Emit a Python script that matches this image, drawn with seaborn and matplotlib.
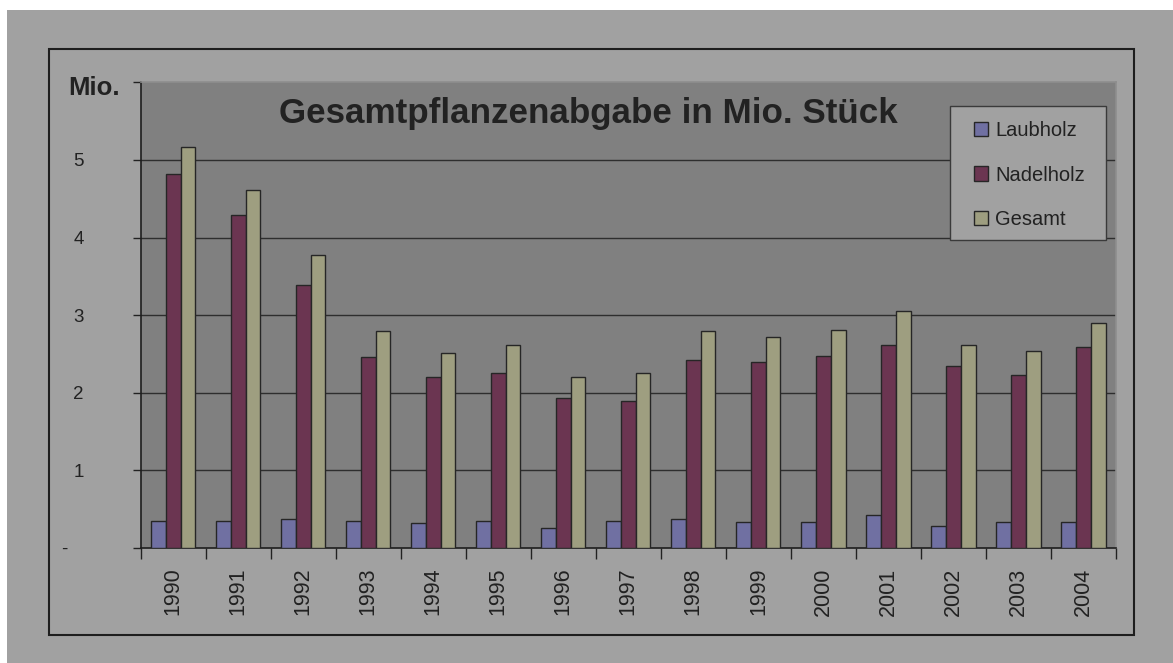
import pandas as pd
import seaborn as sns
import matplotlib.pyplot as plt
from matplotlib.patches import Rectangle

# ==========================
# Data (Mio. Stück)
# ==========================
years = ["1990", "1991", "1992", "1993", "1994", "1995", "1996", "1997",
         "1998", "1999", "2000", "2001", "2002", "2003", "2004"]
laubholz = [0.35, 0.35, 0.38, 0.35, 0.32, 0.35, 0.26, 0.35,
            0.37, 0.33, 0.33, 0.43, 0.28, 0.33, 0.33]
nadelholz = [4.82, 4.29, 3.39, 2.46, 2.20, 2.26, 1.93, 1.90,
             2.42, 2.39, 2.47, 2.62, 2.34, 2.23, 2.59]
gesamt = [5.16, 4.61, 3.77, 2.79, 2.51, 2.61, 2.20, 2.25,
          2.79, 2.72, 2.81, 3.05, 2.62, 2.54, 2.90]
series = ["Laubholz", "Nadelholz", "Gesamt"]
colors = ["#7070a2", "#6b3551", "#9e9e80"]
y_ticks = [0, 1, 2, 3, 4, 5, 6]
y_labels = ["-   ", "1", "2", "3", "4", "5", ""]

# Long format table for seaborn
df = pd.DataFrame({
    "Jahr": years * 3,
    "Wert": laubholz + nadelholz + gesamt,
    "Serie": [s for s in series for _ in years],
})

# ==========================
# Figure setup
# ==========================
plt.rcParams["font.family"] = ["Liberation Sans", "DejaVu Sans"]
text_col = "#222222"

fig = plt.figure(figsize=(11.73, 6.63), dpi=100, facecolor="white")
W, H = 1173, 663

# Gray chart background and black frame (pixel coords -> figure coords)
fig.patches.append(Rectangle((7 / W, 0), 1, (H - 10) / H, transform=fig.transFigure,
                             facecolor="#a1a1a1", edgecolor="none", zorder=-2))
fig.patches.append(Rectangle((49 / W, (H - 635) / H), (1134 - 49) / W, (635 - 49) / H,
                             transform=fig.transFigure, facecolor="none",
                             edgecolor="#1e1e1e", linewidth=1.5, zorder=-1))

ax = fig.add_axes([140.7 / W, (H - 548) / H, (1116 - 140.7) / W, (548 - 82.3) / H])
ax.set_facecolor("#808080")

# ==========================
# Bars
# ==========================
sns.barplot(data=df, x="Jahr", y="Wert", hue="Serie", palette=colors,
            width=0.68, gap=0, edgecolor="#262626", linewidth=1,
            saturation=1, ax=ax, zorder=3)

# ==========================
# Axes styling
# ==========================
ax.set_xlim(-0.5, len(years) - 0.5)
ax.set_ylim(0, 6)
ax.set_xlabel("")
ax.set_ylabel("")

ax.set_yticks(y_ticks)
ax.set_yticklabels(y_labels)
ax.tick_params(axis="y", direction="out", length=6, width=1, color="#222222",
               pad=35, labelsize=13.5, labelcolor=text_col)
for v in y_ticks[1:-1]:
    ax.axhline(v, color="#2e2e2e", linewidth=1, zorder=1)

# category labels at centers, tick marks at boundaries
ax.set_xticks(range(len(years)))
ax.set_xticklabels(years, rotation=90, va="top", ha="center")
ax.set_xticks([i - 0.5 for i in range(len(years) + 1)], minor=True)
ax.tick_params(axis="x", which="major", length=0, pad=14, labelsize=15.5,
               labelcolor=text_col)
ax.tick_params(axis="x", which="minor", direction="out", length=8, width=1,
               color="#222222")

for side in ["left", "bottom"]:
    ax.spines[side].set_color("#1e1e1e")
    ax.spines[side].set_linewidth(1.2)
for side in ["top", "right"]:
    ax.spines[side].set_color("#8e8e8e")
    ax.spines[side].set_linewidth(1.2)

# "Mio." unit label in place of the 6 tick label
ax.text(-0.0212, 5.93, "Mio.", transform=ax.get_yaxis_transform(),
        ha="right", va="center", fontsize=18.5, fontweight="bold", color=text_col)

# Title inside plot area
ax.text(0.4586, 0.912, "Gesamtpflanzenabgabe in Mio. Stück", transform=ax.transAxes,
        ha="center", va="baseline", fontsize=25.2, fontweight="bold", color=text_col,
        zorder=5)

# ==========================
# Legend (box drawn separately to get Excel's wide padding)
# ==========================
ax.add_patch(Rectangle((0.8298, 0.6614), 0.16, 0.2877, transform=ax.transAxes,
                       facecolor="#a1a1a1", edgecolor="#3a3a3a", linewidth=1,
                       zorder=6))
handles, labels = ax.get_legend_handles_labels()
leg = ax.legend(handles, labels, loc="upper left", bbox_to_anchor=(0.8544, 0.917),
                fontsize=14.5, frameon=False, borderpad=0, labelspacing=1.27,
                handlelength=0.7, handleheight=0.7, handletextpad=0.35,
                borderaxespad=0)
for t in leg.get_texts():
    t.set_color(text_col)
leg.set_zorder(7)

fig.savefig("out.png", dpi=100, facecolor=fig.get_facecolor())
